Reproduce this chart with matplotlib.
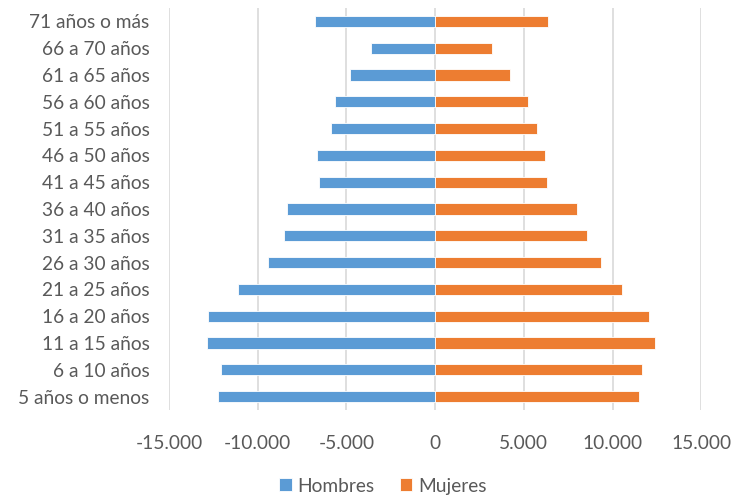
import matplotlib.pyplot as plt
from matplotlib.ticker import FuncFormatter
import numpy as np

# Data, bottom to top
grupos = ['5 años o menos', '6 a 10 años', '11 a 15 años', '16 a 20 años',
          '21 a 25 años', '26 a 30 años', '31 a 35 años', '36 a 40 años',
          '41 a 45 años', '46 a 50 años', '51 a 55 años', '56 a 60 años',
          '61 a 65 años', '66 a 70 años', '71 años o más']
hombres = [-12260, -12090, -12880, -12800, -11090, -9450, -8530, -8380,
           -6570, -6670, -5890, -5630, -4820, -3630, -6780]
mujeres = [11490, 11660, 12370, 12050, 10510, 9340, 8550, 7970,
           6290, 6200, 5730, 5240, 4200, 3200, 6370]

plt.rcParams['font.family'] = ['Lato', 'DejaVu Sans']
gris = '#595959'
fs = 13.8

fig = plt.figure(figsize=(7.32, 4.97), dpi=100)
ax = fig.add_axes([0.231, 0.175, 0.727, 0.809])

y = np.arange(len(grupos))
ax.barh(y, hombres, height=0.42, color='#5B9BD5', edgecolor='white',
        linewidth=0.6, label='Hombres', zorder=3)
ax.barh(y, mujeres, height=0.42, color='#ED7D31', edgecolor='white',
        linewidth=0.6, label='Mujeres', zorder=3)

ax.set_xlim(-15000, 15000)
ax.set_ylim(-0.5, len(grupos) - 0.5)
ax.set_xticks(np.arange(-15000, 15001, 5000))
ax.xaxis.set_major_formatter(FuncFormatter(lambda v, p: f'{int(v):,}'.replace(',', '.')))
ax.set_yticks(y)
ax.set_yticklabels(grupos)

ax.grid(axis='x', color='#D9D9D9', linewidth=1.2, zorder=0)
for s in ax.spines.values():
    s.set_visible(False)
ax.tick_params(axis='both', length=0, labelsize=fs, colors=gris)
ax.tick_params(axis='x', pad=18)
ax.tick_params(axis='y', pad=14)

fig.legend(loc='center', bbox_to_anchor=(0.523, 0.022), ncol=2, frameon=False,
           fontsize=fs, labelcolor=gris, handlelength=0.65, handleheight=0.65,
           handletextpad=0.3, columnspacing=1.3)

fig.savefig('out.png', dpi=100)
